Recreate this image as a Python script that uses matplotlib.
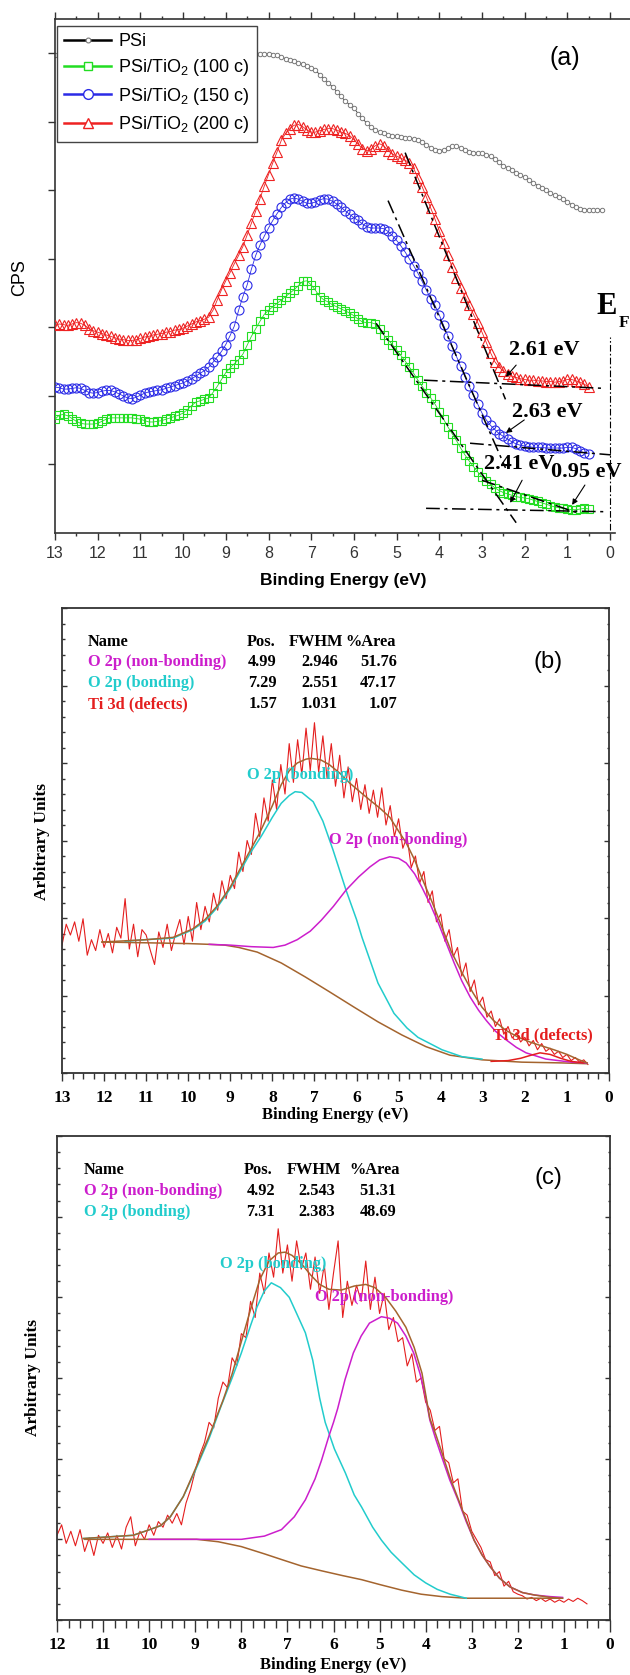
import numpy as np
import matplotlib
matplotlib.use("Agg")
import matplotlib.pyplot as plt
from matplotlib.ticker import MultipleLocator, NullFormatter
from matplotlib.lines import Line2D

SANS = ['Liberation Sans', 'DejaVu Sans']
SERIF = ['Liberation Serif', 'DejaVu Serif']
plt.rcParams['font.family'] = SANS
plt.rcParams['mathtext.fontset'] = 'custom'
plt.rcParams['mathtext.rm'] = 'Liberation Sans'
plt.rcParams['mathtext.it'] = 'Liberation Sans:italic'
plt.rcParams['mathtext.bf'] = 'Liberation Sans:bold'

# ---------------- panel (a): valence band spectra, 0.1 eV steps from 13 eV ----------------
psi = [6.97, 6.98, 6.98, 6.99, 6.99, 6.98, 6.98, 6.97, 6.98, 6.99,
       6.99, 6.98, 6.97, 6.97, 6.98, 6.99, 6.99, 6.98, 6.97, 6.97,
       6.98, 6.98, 6.99, 6.99, 6.98, 6.98, 6.97, 6.98, 6.99, 6.99,
       6.99, 6.99, 6.98, 6.98, 6.99, 7.00, 7.00, 6.99, 6.99, 7.00,
       7.00, 7.00, 7.00, 7.00, 7.00, 7.00, 7.00, 6.99, 6.99, 6.99,
       6.99, 6.98, 6.97, 6.95, 6.92, 6.90, 6.88, 6.86, 6.84, 6.81,
       6.79, 6.75, 6.69, 6.63, 6.57, 6.51, 6.44, 6.37, 6.30, 6.25,
       6.20, 6.12, 6.05, 5.98, 5.92, 5.88, 5.85, 5.83, 5.81, 5.80,
       5.79, 5.78, 5.77, 5.76, 5.75, 5.73, 5.70, 5.66, 5.62, 5.59,
       5.58, 5.59, 5.62, 5.65, 5.65, 5.62, 5.59, 5.56, 5.55, 5.55,
       5.54, 5.52, 5.50, 5.46, 5.41, 5.36, 5.33, 5.30, 5.26, 5.23,
       5.19, 5.15, 5.11, 5.07, 5.04, 5.00, 4.96, 4.93, 4.90, 4.87,
       4.83, 4.79, 4.76, 4.73, 4.72, 4.71, 4.71, 4.71, 4.72]
tio2_100 = [1.66, 1.72, 1.73, 1.71, 1.67, 1.63, 1.60, 1.59, 1.59, 1.59,
            1.60, 1.63, 1.66, 1.68, 1.68, 1.68, 1.68, 1.68, 1.68, 1.67,
            1.66, 1.64, 1.62, 1.62, 1.63, 1.64, 1.66, 1.68, 1.70, 1.72,
            1.75, 1.80, 1.86, 1.91, 1.93, 1.95, 1.97, 2.05, 2.14, 2.24,
            2.34, 2.41, 2.47, 2.53, 2.61, 2.74, 2.87, 2.98, 3.09, 3.19,
            3.25, 3.30, 3.35, 3.40, 3.45, 3.50, 3.55, 3.61, 3.67, 3.68,
            3.62, 3.54, 3.45, 3.40, 3.37, 3.33, 3.30, 3.27, 3.24, 3.21,
            3.17, 3.12, 3.08, 3.07, 3.07, 3.05, 2.97, 2.89, 2.82, 2.75,
            2.67, 2.59, 2.51, 2.42, 2.33, 2.23, 2.14, 2.05, 1.97, 1.88,
            1.77, 1.66, 1.55, 1.45, 1.35, 1.24, 1.14, 1.05, 0.97, 0.89,
            0.82, 0.76, 0.71, 0.66, 0.62, 0.59, 0.57, 0.55, 0.53, 0.52,
            0.51, 0.50, 0.48, 0.46, 0.44, 0.42, 0.40, 0.38, 0.37, 0.36,
            0.35, 0.34, 0.34, 0.35, 0.36, 0.35]
tio2_150 = [2.13, 2.12, 2.10, 2.10, 2.11, 2.12, 2.11, 2.08, 2.05, 2.04,
            2.05, 2.07, 2.08, 2.08, 2.06, 2.03, 2.00, 1.97, 1.96, 1.98,
            2.01, 2.04, 2.06, 2.07, 2.08, 2.09, 2.11, 2.13, 2.15, 2.17,
            2.19, 2.22, 2.25, 2.29, 2.33, 2.37, 2.42, 2.49, 2.57, 2.65,
            2.75, 2.88, 3.02, 3.25, 3.45, 3.62, 3.85, 4.05, 4.20, 4.33,
            4.45, 4.56, 4.66, 4.75, 4.82, 4.87, 4.89, 4.87, 4.84, 4.81,
            4.81, 4.83, 4.86, 4.88, 4.87, 4.84, 4.80, 4.75, 4.70, 4.65,
            4.60, 4.56, 4.51, 4.47, 4.45, 4.45, 4.45, 4.44, 4.40, 4.34,
            4.27, 4.19, 4.10, 4.00, 3.90, 3.79, 3.67, 3.54, 3.42, 3.32,
            3.18, 3.03, 2.88, 2.73, 2.58, 2.43, 2.28, 2.14, 2.01, 1.88,
            1.75, 1.65, 1.57, 1.51, 1.45, 1.41, 1.37, 1.33, 1.30, 1.28,
            1.27, 1.26, 1.25, 1.25, 1.25, 1.24, 1.24, 1.24, 1.24, 1.24,
            1.25, 1.25, 1.23, 1.19, 1.17, 1.16]
tio2_200 = [3.03, 3.05, 3.04, 3.03, 3.05, 3.07, 3.06, 3.03, 2.98, 2.95,
            2.93, 2.91, 2.89, 2.87, 2.85, 2.83, 2.82, 2.81, 2.81, 2.82,
            2.84, 2.86, 2.87, 2.89, 2.90, 2.91, 2.93, 2.94, 2.96, 2.97,
            2.99, 3.02, 3.05, 3.08, 3.10, 3.12, 3.15, 3.25, 3.40, 3.55,
            3.68, 3.80, 3.93, 4.05, 4.18, 4.35, 4.52, 4.70, 4.88, 5.06,
            5.23, 5.40, 5.56, 5.73, 5.83, 5.90, 5.95, 5.96, 5.93, 5.88,
            5.85, 5.85, 5.87, 5.89, 5.90, 5.90, 5.88, 5.85, 5.83, 5.80,
            5.74, 5.67, 5.61, 5.58, 5.60, 5.65, 5.68, 5.65, 5.58, 5.53,
            5.50, 5.47, 5.44, 5.40, 5.32, 5.18, 5.05, 4.90, 4.74, 4.58,
            4.41, 4.23, 4.05, 3.88, 3.72, 3.58, 3.45, 3.32, 3.19, 3.07,
            2.93, 2.78, 2.63, 2.50, 2.42, 2.36, 2.32, 2.29, 2.27, 2.25,
            2.24, 2.23, 2.23, 2.22, 2.22, 2.21, 2.21, 2.20, 2.21, 2.22,
            2.24, 2.24, 2.22, 2.20, 2.17, 2.13]
labels_a = ['PSi', 'PSi/TiO$_2$ (100 c)', 'PSi/TiO$_2$ (150 c)', 'PSi/TiO$_2$ (200 c)']

# extrapolation lines (eV pairs, CPS pairs)
fit_x = [[4.80, 2.45], [4.36, 0.12], [5.20, 2.45], [3.28, -0.02],
         [5.48, 2.20], [3.00, 0.75], [4.31, 0.07]]
fit_y = [[5.55, 1.95], [2.23, 2.11], [4.85, 0.95], [1.31, 1.14],
         [3.06, 0.15], [0.77, 0.29], [0.36, 0.31]]
onset_text = ['2.61 eV', '2.63 eV', '2.41 eV', '0.95 eV']
onset_text_x = [1.55, 1.48, 2.13, 0.56]
onset_text_y = [2.67, 1.76, 1.00, 0.89]
onset_from = [(2.20, 2.45), (2.01, 1.65), (2.06, 0.77), (0.59, 0.70)]
onset_to = [(2.44, 2.28), (2.44, 1.46), (2.34, 0.44), (0.89, 0.41)]
fermi_top = 2.86

# ---------------- panel (b): 100 c fit ----------------
raw_b = [1.65, 1.92, 1.78, 1.95, 1.70, 1.99, 1.52, 1.72, 1.58, 1.85,
         1.62, 1.80, 1.55, 1.88, 1.74, 2.25, 1.60, 1.92, 1.50, 1.85,
         1.78, 1.58, 1.40, 1.82, 1.62, 1.92, 1.58, 1.80, 1.98, 1.66,
         2.02, 1.70, 2.20, 1.85, 2.15, 1.95, 2.32, 2.10, 2.48, 2.25,
         2.55, 2.38, 2.85, 2.60, 3.00, 2.82, 3.35, 3.05, 3.55, 3.25,
         3.78, 3.40, 3.98, 3.60, 4.25, 3.75, 4.30, 3.85, 4.45, 3.90,
         4.52, 3.88, 4.35, 3.80, 4.25, 3.70, 4.10, 3.55, 3.95, 3.50,
         3.80, 3.40, 3.72, 3.35, 3.65, 3.30, 3.68, 3.20, 3.45, 3.05,
         3.28, 2.90, 3.05, 2.65, 2.80, 2.45, 2.60, 2.20, 2.35, 1.95,
         2.05, 1.70, 1.85, 1.50, 1.62, 1.25, 1.42, 1.05, 1.20, 0.88,
         0.98, 0.72, 0.80, 0.60, 0.70, 0.50, 0.60, 0.45, 0.52, 0.40,
         0.46, 0.35, 0.42, 0.30, 0.38, 0.28, 0.32, 0.24, 0.28, 0.20,
         0.24, 0.16, 0.20, 0.14, 0.17, 0.11]
bg_b_x = [12.05, 11.0, 10.0, 9.5, 9.13, 8.8, 8.36, 7.79, 7.22, 6.65, 6.06, 5.49,
          4.92, 4.35, 3.78, 3.02, 2.07, 1.12, 0.52]
bg_b_y = [1.69, 1.68, 1.67, 1.66, 1.65, 1.62, 1.56, 1.42, 1.24, 1.05, 0.85, 0.66,
          0.49, 0.34, 0.23, 0.17, 0.14, 0.13, 0.12]
bond_b_x = [11.5, 11.03, 10.36, 9.89, 9.6, 9.32, 9.0, 8.75, 8.5, 8.27, 8.0, 7.79,
            7.6, 7.46, 7.3, 7.03, 6.8, 6.56, 6.25, 6.0, 5.87, 5.49, 5.11, 4.8,
            4.54, 3.97, 3.49, 3.02]
bond_b_y = [1.70, 1.72, 1.74, 1.85, 1.96, 2.13, 2.38, 2.62, 2.86, 3.05, 3.30, 3.48,
            3.58, 3.63, 3.62, 3.50, 3.25, 2.88, 2.36, 1.98, 1.75, 1.16, 0.77, 0.58,
            0.46, 0.30, 0.21, 0.18]
nonb_b_x = [9.5, 9.0, 8.5, 7.98, 7.7, 7.41, 7.1, 6.84, 6.55, 6.25, 5.95, 5.68,
            5.45, 5.21, 5.0, 4.82, 4.62, 4.45, 4.25, 4.06, 3.87, 3.68, 3.5, 3.3,
            3.1, 2.92, 2.7, 2.45, 2.2, 1.97, 1.5, 0.9, 0.52]
nonb_b_y = [1.66, 1.65, 1.63, 1.62, 1.65, 1.72, 1.83, 1.97, 2.15, 2.36, 2.53, 2.66,
            2.75, 2.79, 2.77, 2.71, 2.57, 2.40, 2.18, 1.94, 1.68, 1.42, 1.19, 0.98,
            0.81, 0.68, 0.54, 0.43, 0.33, 0.26, 0.18, 0.14, 0.13]
ti_b_x = [2.8, 2.4, 2.1, 1.85, 1.64, 1.4, 1.15, 0.9, 0.6]
ti_b_y = [0.15, 0.16, 0.19, 0.23, 0.26, 0.24, 0.19, 0.15, 0.13]
env_b_x = [12.05, 11.0, 10.36, 9.89, 9.6, 9.32, 9.0, 8.75, 8.5, 8.3, 8.0, 7.79,
           7.6, 7.41, 7.2, 7.08, 6.85, 6.65, 6.4, 6.16, 5.9, 5.68, 5.45, 5.21,
           5.0, 4.82, 4.62, 4.45, 4.2, 3.97, 3.75, 3.49, 3.25, 3.02, 2.75, 2.45,
           2.15, 1.88, 1.6, 1.31, 1.0, 0.71, 0.52]
env_b_y = [1.69, 1.72, 1.75, 1.86, 1.98, 2.15, 2.40, 2.65, 2.90, 3.10, 3.45, 3.72,
           3.90, 4.00, 4.05, 4.06, 4.04, 3.98, 3.87, 3.74, 3.62, 3.52, 3.42, 3.30,
           3.12, 2.97, 2.75, 2.52, 2.20, 1.88, 1.57, 1.29, 1.05, 0.85, 0.68, 0.55,
           0.46, 0.40, 0.35, 0.30, 0.24, 0.17, 0.13]
names_b = ['O 2p (non-bonding)', 'O 2p (bonding)', 'Ti 3d (defects)']
pos_b = ['4.99', '7.29', '1.57']
fwhm_b = ['2.946', '2.551', '1.031']
area_b = ['51.76', '47.17', '1.07']

# ---------------- panel (c): 150 c fit ----------------
raw_c = [1.05, 1.18, 0.95, 1.10, 0.92, 1.12, 0.85, 1.02, 0.80, 1.05,
         0.95, 1.08, 0.90, 1.05, 0.88, 1.15, 1.28, 0.92, 1.10, 1.00,
         1.18, 1.05, 1.22, 1.15, 1.30, 1.20, 1.32, 1.18, 1.45, 1.62,
         1.85, 2.05, 2.20, 2.45, 2.38, 2.75, 2.95, 2.88, 3.25, 3.15,
         3.55, 3.50, 3.95, 3.75, 4.30, 4.05, 4.55, 4.25, 4.85, 4.30,
         4.65, 4.20, 4.70, 4.35, 4.55, 4.10, 4.50, 4.05, 4.40, 3.85,
         4.30, 4.70, 3.75, 4.20, 3.90, 4.15, 3.95, 4.45, 3.85, 4.25,
         3.80, 4.05, 3.60, 3.75, 3.45, 3.50, 3.15, 3.30, 2.95, 3.00,
         2.70, 2.60, 2.35, 2.40, 2.00, 1.95, 1.70, 1.75, 1.35, 1.30,
         1.10, 1.00, 0.90, 0.75, 0.72, 0.55, 0.60, 0.42, 0.48, 0.35,
         0.32, 0.30, 0.26, 0.28, 0.24, 0.27, 0.23, 0.26, 0.22, 0.25,
         0.22, 0.26, 0.23, 0.27, 0.24, 0.20]
bg_c_x = [11.4, 10.0, 8.97, 8.5, 8.0, 7.5, 7.13, 6.7, 6.26, 5.8, 5.39, 5.0,
          4.52, 4.1, 3.65, 3.12, 1.9, 1.03]
bg_c_y = [1.0, 1.0, 1.0, 0.97, 0.91, 0.82, 0.75, 0.67, 0.61, 0.55, 0.50, 0.44,
          0.37, 0.32, 0.29, 0.27, 0.27, 0.27]
bond_c_x = [11.43, 10.9, 10.35, 10.04, 9.75, 9.54, 9.26, 9.0, 8.7, 8.44, 8.2, 8.0,
            7.8, 7.66, 7.5, 7.35, 7.15, 6.96, 6.8, 6.61, 6.45, 6.3, 6.18, 5.98,
            5.74, 5.55, 5.39, 5.15, 4.96, 4.75, 4.52, 4.25, 4.0, 3.75, 3.47, 3.12]
bond_c_y = [1.01, 1.03, 1.05, 1.11, 1.17, 1.28, 1.53, 1.85, 2.25, 2.65, 3.00, 3.31,
            3.65, 3.88, 4.08, 4.18, 4.12, 4.00, 3.80, 3.56, 3.22, 2.75, 2.45, 2.12,
            1.82, 1.55, 1.40, 1.15, 0.99, 0.84, 0.71, 0.56, 0.46, 0.38, 0.32, 0.27]
nonb_c_x = [10.0, 9.0, 8.5, 8.0, 7.5, 7.13, 6.85, 6.61, 6.4, 6.26, 6.1, 6.0,
            5.91, 5.75, 5.57, 5.4, 5.22, 4.96, 4.78, 4.61, 4.43, 4.26, 4.12, 4.0,
            3.91, 3.78, 3.65, 3.48, 3.3, 3.12, 2.95, 2.78, 2.6, 2.4, 2.17, 1.9,
            1.64, 1.3, 1.03]
nonb_c_y = [1.0, 1.0, 1.0, 1.0, 1.04, 1.12, 1.28, 1.49, 1.75, 1.98, 2.28, 2.45,
            2.62, 2.98, 3.31, 3.52, 3.68, 3.76, 3.74, 3.68, 3.52, 3.31, 3.05, 2.76,
            2.48, 2.24, 2.02, 1.74, 1.49, 1.22, 0.99, 0.81, 0.66, 0.52, 0.41, 0.34,
            0.31, 0.29, 0.28]
env_c_x = [11.43, 10.35, 10.04, 9.75, 9.54, 9.26, 9.0, 8.7, 8.4, 8.2, 8.0, 7.8,
           7.6, 7.4, 7.2, 7.05, 6.9, 6.7, 6.5, 6.3, 6.1, 5.83, 5.55, 5.3, 5.1,
           4.87, 4.65, 4.43, 4.25, 4.08, 3.91, 3.78, 3.65, 3.48, 3.3, 3.12, 2.95,
           2.78, 2.6, 2.4, 2.17, 1.9, 1.64, 1.3, 1.03]
env_c_y = [1.01, 1.05, 1.11, 1.17, 1.28, 1.53, 1.87, 2.28, 2.72, 3.05, 3.45, 3.85,
           4.22, 4.45, 4.55, 4.56, 4.52, 4.42, 4.28, 4.16, 4.10, 4.09, 4.14, 4.16, 4.12,
           4.00, 3.83, 3.63, 3.38, 3.06, 2.50, 2.30, 2.08, 1.78, 1.51, 1.24, 0.99,
           0.81, 0.66, 0.52, 0.41, 0.34, 0.31, 0.28, 0.27]
names_c = ['O 2p (non-bonding)', 'O 2p (bonding)']
pos_c = ['4.92', '7.31']
fwhm_c = ['2.543', '2.383']
area_c = ['51.31', '48.69']

RED = '#E41E1E'
MAGENTA = '#CC1ECC'
CYAN = '#22CCCC'
BROWN = '#A4642E'
SPINE = '#333333'

W, H = 630, 1675
fig = plt.figure(figsize=(W / 100, H / 100), dpi=100)


def fx(px):
    return px / W


def fy(py):
    return 1 - py / H


def grid(start, values, step=0.1):
    return start - step * np.arange(len(values))


# =============================== (a) ===============================
ax = fig.add_axes([fx(55), fy(533), 575 / W, 514 / H])
ax.set_xlim(13, 13 - 575 / 42.7)
ax.set_ylim(0, 7.5)

ax.plot(grid(13.0, psi), psi, color='#333333', lw=0.6, marker='o', ms=3.2,
        mfc='white', mec='#777777', mew=0.7, zorder=2)
ax.plot(grid(13.0, tio2_100), tio2_100, color='#22DD22', lw=0.6, marker='s', ms=5.5,
        mfc='none', mec='#22DD22', mew=0.8, zorder=3)
ax.plot(grid(13.0, tio2_150), tio2_150, color='#2B2BE6', lw=0.6, marker='o', ms=6.5,
        mfc='none', mec='#2B2BE6', mew=0.8, zorder=3)
ax.plot(grid(13.0, tio2_200), tio2_200, color='#EE2222', lw=0.6, marker='^', ms=6.5,
        mfc='none', mec='#EE2222', mew=0.8, zorder=3)

dashdot = (0, (9, 3, 2, 3))
for xs, ys in zip(fit_x, fit_y):
    ax.plot(xs, ys, color='black', lw=1.1, ls=dashdot, zorder=4)
ax.plot([0, 0], [0.05, fermi_top], color='black', lw=0.8, ls=(0, (6, 2, 1.5, 2)), zorder=4)

for t, tx, ty, p0, p1 in zip(onset_text, onset_text_x, onset_text_y, onset_from, onset_to):
    ax.text(tx, ty, t, family=SERIF, weight='bold', fontsize=16, ha='center', va='center', zorder=6)
    ax.annotate('', xy=p1, xytext=p0,
                arrowprops=dict(arrowstyle='-|>', lw=0.8, color='black',
                                shrinkA=0, shrinkB=0, mutation_scale=8), zorder=6)

ax.text(0.09, 3.31, 'E', family=SERIF, weight='bold', fontsize=22, ha='center', va='center')
ax.text(-0.33, 3.06, 'F', family=SERIF, weight='bold', fontsize=12.5, ha='center', va='center')
fig.text(fx(565), fy(58), '(a)', fontsize=18, ha='center', va='center')

handles = [
    Line2D([], [], color='black', lw=1.8, marker='o', ms=3.5, mfc='white', mec='#777777', mew=0.8),
    Line2D([], [], color='#22DD22', lw=1.8, marker='s', ms=6, mfc='white', mec='#22DD22', mew=1),
    Line2D([], [], color='#2B2BE6', lw=1.8, marker='o', ms=7, mfc='white', mec='#2B2BE6', mew=1),
    Line2D([], [], color='#EE2222', lw=1.8, marker='^', ms=7, mfc='white', mec='#EE2222', mew=1),
]
leg = ax.legend(handles, labels_a, loc='upper left', bbox_to_anchor=(2 / 575, (533 - 26) / 514),
                borderaxespad=0, fontsize=13, frameon=True, fancybox=False, framealpha=1,
                edgecolor='#444444', handlelength=2.6, handletextpad=0.4, labelspacing=0.4,
                borderpad=0.4)
leg.get_frame().set_linewidth(1.0)
leg.set_zorder(10)

ax.spines['right'].set_visible(False)
ax.spines['bottom'].set_bounds(13, -0.12)
for s in ['left', 'top', 'bottom']:
    ax.spines[s].set_linewidth(1.2)
    ax.spines[s].set_color(SPINE)
ax.xaxis.set_major_locator(MultipleLocator(1))
ax.xaxis.set_minor_locator(MultipleLocator(0.5))
ax.tick_params(axis='x', which='both', direction='out', top=True, bottom=True,
               labeltop=False, labelsize=11.5, colors=SPINE, pad=4)
ax.tick_params(axis='x', which='major', length=5, width=1)
ax.tick_params(axis='x', which='minor', length=2.5, width=1)
ax.set_yticks([1, 2, 3, 4, 5, 6, 7])
ax.yaxis.set_major_formatter(NullFormatter())
ax.tick_params(axis='y', which='major', direction='out', length=5, width=1, colors=SPINE)
fig.text(fx(20), fy(278), 'CPS', fontsize=13, rotation=90, ha='center', va='center')
fig.text(fx(343), fy(580), 'Binding Energy (eV)', fontsize=12.5, weight='bold',
         ha='center', va='center')


# =============================== (b) & (c) ===============================
def fit_panel(box, xmax, raw, curves, labels, tick_len, label_pad):
    left, top, right, bottom = box
    a = fig.add_axes([fx(left), fy(bottom), (right - left) / W, (bottom - top) / H])
    a.set_xlim(xmax, 0)
    a.set_ylim(0, 6)
    a.plot(grid(xmax, raw), raw, color=RED, lw=0.8, zorder=2)
    for xs, ys, c in curves:
        a.plot(xs, ys, color=c, lw=1.1, zorder=3)
    for t, x, y, c in labels:
        a.text(x, y, t, color=c, family=SERIF, weight='bold', fontsize=11.8,
               ha='center', va='center', zorder=5)
    ticks = list(range(xmax, -1, -1))
    a.set_xticks(ticks)
    a.set_xticklabels([str(t) for t in ticks], family=SERIF, weight='bold', fontsize=12.5)
    a.xaxis.set_minor_locator(MultipleLocator(0.25))
    a.tick_params(axis='x', which='major', direction='out', length=tick_len[0], width=1,
                  colors=SPINE, pad=label_pad, labelcolor='black')
    a.tick_params(axis='x', which='minor', direction='out', length=tick_len[1], width=1,
                  colors=SPINE)
    a.set_yticks([0, 1, 2, 3, 4, 5, 6])
    a.yaxis.set_minor_locator(MultipleLocator(0.2))
    a.yaxis.set_major_formatter(NullFormatter())
    a.tick_params(axis='y', which='both', direction='in', left=True, right=True,
                  colors=SPINE, width=1)
    a.tick_params(axis='y', which='major', length=3.6)
    a.tick_params(axis='y', which='minor', length=1.8)
    for s in a.spines.values():
        s.set_linewidth(1.3)
        s.set_color(SPINE)
    return a


def draw_table(name_x, col_hdr_x, col_val_x, row_y, names, cols, colors):
    kw = dict(family=SERIF, weight='bold', fontsize=11.8, va='center')
    fig.text(fx(name_x), fy(row_y[0]), 'Name', ha='left', **kw)
    for hx, h in zip(col_hdr_x, ['Pos.', 'FWHM', '%Area']):
        fig.text(fx(hx), fy(row_y[0]), h, ha='left', **kw)
    for i, nm in enumerate(names):
        fig.text(fx(name_x), fy(row_y[i + 1]), nm, ha='left', color=colors[i], **kw)
        for vx, col in zip(col_val_x, cols):
            fig.text(fx(vx), fy(row_y[i + 1]), col[i], ha='right', **kw)


ax_b = fit_panel((62, 608, 609, 1073), 13, raw_b,
                 [(bg_b_x, bg_b_y, BROWN), (bond_b_x, bond_b_y, CYAN),
                  (nonb_b_x, nonb_b_y, MAGENTA), (ti_b_x, ti_b_y, RED),
                  (env_b_x, env_b_y, BROWN)],
                 [('O 2p (bonding)', 7.34, 3.85, CYAN),
                  ('O 2p (non-bonding)', 5.02, 3.00, MAGENTA),
                  ('Ti 3d (defects)', 1.57, 0.49, RED)],
                 (6, 4), 6)
draw_table(88, [247, 289, 345], [277, 338, 397], [642, 662, 683, 704],
           names_b, [pos_b, fwhm_b, area_b], [MAGENTA, CYAN, RED])
fig.text(fx(548), fy(662), '(b)', fontsize=17, ha='center', va='center')
fig.text(fx(42), fy(841), 'Arbitrary Units', family=SERIF, weight='bold', fontsize=12.5,
         rotation=90, ha='center', va='center')
fig.text(fx(335), fy(1115), 'Binding Energy (eV)', family=SERIF, weight='bold', fontsize=12,
         ha='center', va='center')

ax_c = fit_panel((57, 1136, 610, 1620), 12, raw_c,
                 [(bg_c_x, bg_c_y, BROWN), (bond_c_x, bond_c_y, CYAN),
                  (nonb_c_x, nonb_c_y, MAGENTA), (env_c_x, env_c_y, BROWN)],
                 [('O 2p (bonding)', 7.30, 4.41, CYAN),
                  ('O 2p (non-bonding)', 4.91, 4.01, MAGENTA)],
                 (8.6, 5.4), 3.6)
draw_table(84, [244, 287, 349], [275, 335, 396], [1170, 1191, 1212],
           names_c, [pos_c, fwhm_c, area_c], [MAGENTA, CYAN])
fig.text(fx(548), fy(1178), '(c)', fontsize=17, ha='center', va='center')
fig.text(fx(33), fy(1378), 'Arbitrary Units', family=SERIF, weight='bold', fontsize=12.5,
         rotation=90, ha='center', va='center')
fig.text(fx(333), fy(1665), 'Binding Energy (eV)', family=SERIF, weight='bold', fontsize=12,
         ha='center', va='center')

fig.savefig('out.png', dpi=100)
